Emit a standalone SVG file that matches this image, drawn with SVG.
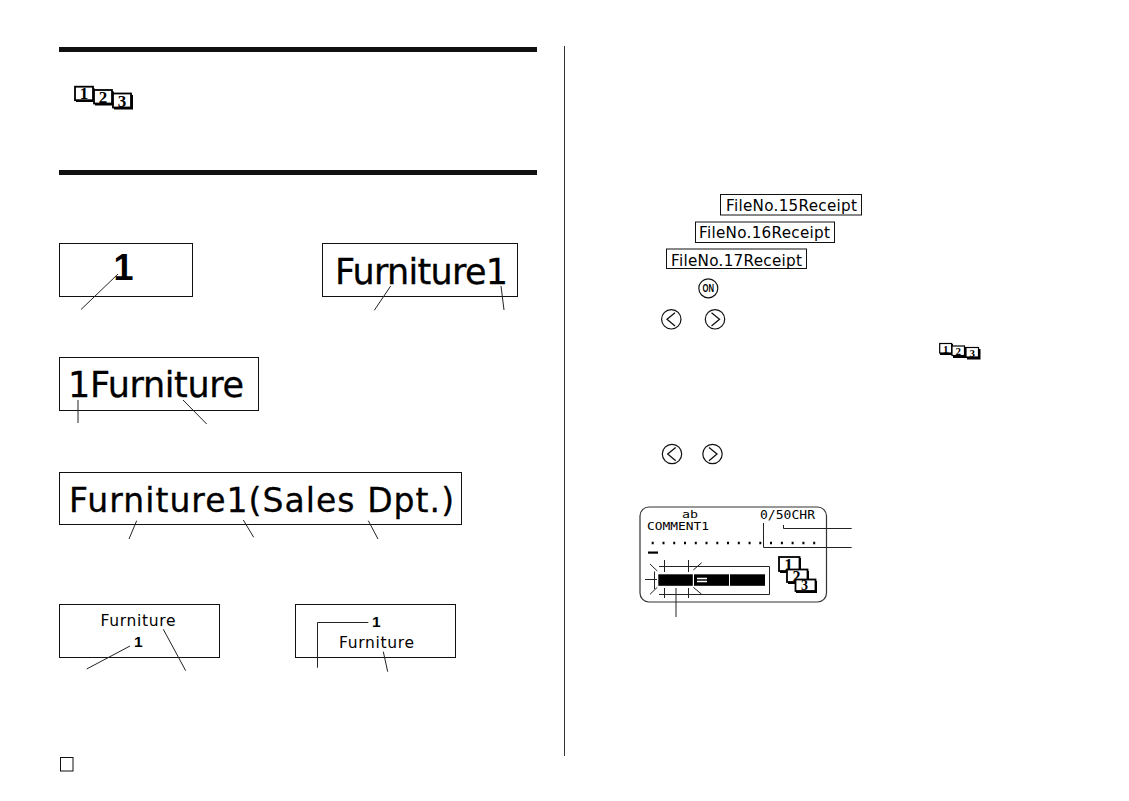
<svg xmlns="http://www.w3.org/2000/svg" width="1129" height="801" viewBox="0 0 1129 801">
<style>
.b{fill:#fff;stroke:#111;stroke-width:1}
.l{fill:none;stroke:#222;stroke-width:1}
.t{font-family:"DejaVu Sans","Liberation Sans",sans-serif;fill:#000}
.o{font-family:"Liberation Sans",Arial,sans-serif;fill:#000;font-weight:bold}
.h{stroke:#000;stroke-width:.3}
.m{font-family:"DejaVu Sans Mono","Liberation Mono",monospace;fill:#000;font-size:11.500px}
.i{fill:#fff;stroke:#000;stroke-width:1.800}
.s{fill:#000}
.n{font-family:"Liberation Serif",serif;font-weight:bold;fill:#000;text-anchor:middle}
.c{fill:#fff;stroke:#111;stroke-width:1.200}
.a{fill:none;stroke:#111;stroke-width:1.300}
</style>
<rect width="1129" height="801" fill="#fff"/>
<g id="rules">
<rect x="59" y="47" width="478" height="5" fill="#111"/>
<rect x="59" y="170" width="478" height="5" fill="#111"/>
<rect x="564" y="46" width="1" height="710" fill="#333"/>
</g>
<g id="icon-top">
<rect class="s" x="76" y="88" width="18.500" height="14"/><rect class="i" x="75" y="86.700" width="18" height="13.500"/><text class="n" x="84" y="99" font-size="17">1</text>
<rect class="s" x="95" y="91.500" width="19" height="14"/><rect class="i" x="94" y="90" width="18" height="13.500"/><text class="n" x="103" y="103" font-size="17">2</text>
<rect class="s" x="114" y="95" width="19" height="14.500"/><rect class="i" x="113" y="93.500" width="18" height="14"/><text class="n" x="122" y="106.500" font-size="17">3</text>
</g>
<g id="box1"><rect class="b" x="59.500" y="243.500" width="133" height="53"/><text class="o" x="113.500" y="280" font-size="36">1</text></g>
<g id="box2"><rect class="b" x="322.500" y="243.500" width="195" height="53"/><text class="t h" x="335" y="284" font-size="35" textLength="173">Furniture1</text></g>
<g id="box3"><rect class="b" x="59.500" y="357.500" width="199" height="53"/><text class="t h" x="68" y="397" font-size="35" textLength="176">1Furniture</text></g>
<g id="box4"><rect class="b" x="59.500" y="472.500" width="402" height="52"/><text class="t h" x="69" y="512" font-size="33" textLength="385">Furniture1(Sales Dpt.)</text></g>
<g id="box5"><rect class="b" x="59.500" y="604.500" width="160" height="53"/><text class="t" x="100.500" y="626" font-size="15.500" textLength="75">Furniture</text><text class="o" x="134" y="647" font-size="15.500">1</text></g>
<g id="box6"><rect class="b" x="295.500" y="604.500" width="160" height="53"/><text class="o" x="372" y="627" font-size="15.500">1</text><text class="t" x="339" y="648" font-size="15.500" textLength="75">Furniture</text></g>
<g id="page-box"><rect class="b" x="60.500" y="757.500" width="12.500" height="13.500"/></g>
<g id="file15"><rect class="b" x="720.500" y="194.500" width="141" height="20.500"/><text class="t" x="726" y="211" font-size="15.200" textLength="131">FileNo.15Receipt</text></g>
<g id="file16"><rect class="b" x="695.500" y="222" width="139" height="20.500"/><text class="t" x="699" y="238" font-size="15.200" textLength="131">FileNo.16Receipt</text></g>
<g id="file17"><rect class="b" x="666.500" y="249" width="140" height="19.500"/><text class="t" x="671" y="265.500" font-size="15.200" textLength="131">FileNo.17Receipt</text></g>
<g id="key-on"><circle class="c" cx="708.300" cy="288.300" r="9.500"/><text class="o" x="702.500" y="292" font-size="10" textLength="11.500" lengthAdjust="spacingAndGlyphs">ON</text></g>
<g id="key-left-1"><circle class="c" cx="671.300" cy="319.300" r="9.700"/><path class="a" d="M675 312.700L667 319.300L675 326"/></g>
<g id="key-right-1"><circle class="c" cx="715" cy="319.300" r="9.700"/><path class="a" d="M711.500 312.700L719.500 319.300L711.500 326"/></g>
<g id="key-left-2"><circle class="c" cx="672" cy="454" r="9.700"/><path class="a" d="M675.700 447.400L667.700 454L675.700 460.700"/></g>
<g id="key-right-2"><circle class="c" cx="712.500" cy="454" r="9.700"/><path class="a" d="M709 447.400L717 454L709 460.700"/></g>
<g id="icon-small">
<rect class="s" x="940" y="344" width="13" height="11"/><rect class="i" x="939.700" y="343.500" width="12" height="9.500" style="stroke-width:1.200"/><text class="n" x="945.700" y="352.500" font-size="11">1</text>
<rect class="s" x="953" y="347" width="14" height="11"/><rect class="i" x="952" y="346" width="12.500" height="9.500" style="stroke-width:1.200"/><text class="n" x="958.200" y="354.800" font-size="11">2</text>
<rect class="s" x="967" y="349" width="13.500" height="10.500"/><rect class="i" x="966" y="347.500" width="12.500" height="9.500" style="stroke-width:1.200"/><text class="n" x="972.200" y="356.500" font-size="11">3</text>
</g>
<g id="lcd">
<rect x="640" y="507" width="186.500" height="95" rx="9" fill="#fff" stroke="#333" stroke-width="1.200"/>
<text class="m" x="682" y="517.500" font-size="10" style="font-size:10px" textLength="16" lengthAdjust="spacingAndGlyphs">ab</text>
<text class="m" x="647" y="530" style="font-size:10.500px" textLength="62" lengthAdjust="spacingAndGlyphs">COMMENT1</text>
<text class="m" x="760" y="519" textLength="55" lengthAdjust="spacingAndGlyphs">0/50CHR</text>
<path d="M651.700 543h2M662.500 543h2M673.200 543h2M684 543h2M694.800 543h2M705.500 543h2M716.300 543h2M727 543h2M737.800 543h2M748.600 543h2M759.300 543h2M770 543h2M780.900 543h2M791.600 543h2M802.400 543h2M813.200 543h2" stroke="#000" stroke-width="2.500"/>
<rect x="648" y="551.500" width="10" height="2.200" fill="#000"/>
<path fill="none" stroke="#222" d="M659 566.500H769.500V594.500H659M654.500 571.500V589"/>
<path class="l" d="M645 579.500h12M664.500 560v12M688.500 560v12M664.500 588v10M688.500 588v10M650 564l7.300 7M701.700 562.700l-8.400 7.300M650 594.300l7.300-7M701.700 594.300l-8.400-7"/>
<rect x="658.300" y="574.300" width="34.500" height="11.500" fill="#000"/>
<rect x="694" y="574.300" width="35" height="11.500" fill="#000"/>
<rect x="730" y="574.300" width="35" height="11.500" fill="#000"/>
<path d="M697 578.500h10M697 581.500h10" stroke="#fff" stroke-width="1.600"/>
</g>
<g id="icon-lcd">
<rect class="s" x="780" y="558" width="21" height="15"/><rect class="i" x="779" y="557" width="20.500" height="14"/><text class="n" x="788.500" y="570" font-size="17">1</text>
<rect class="s" x="788" y="571" width="21" height="13"/><rect class="i" x="787" y="569.500" width="20.500" height="12.500"/><text class="n" x="796.500" y="581.500" font-size="16">2</text>
<rect class="s" x="796" y="581" width="21" height="12"/><rect class="i" x="795.500" y="579.500" width="20" height="11.500"/><text class="n" x="804.500" y="590" font-size="14">3</text>
</g>
<g id="connectors" class="l">
<path class="l" d="M118 274L81 309.500"/>
<path class="l" d="M390.700 286L374.300 310.300"/>
<path class="l" d="M501 286L504 310"/>
<path class="l" d="M78 400V423"/>
<path class="l" d="M183 400L206.700 424"/>
<path class="l" d="M136.700 520.700L129 539"/>
<path class="l" d="M243.300 520L253.700 537.300"/>
<path class="l" d="M368.300 520.700L378 539"/>
<path class="l" d="M130 646L86.700 669"/>
<path class="l" d="M163.300 629.300L185.700 670.700"/>
<path class="l" d="M368.300 622.500H317.500V667.700"/>
<path class="l" d="M383.300 651.700L387.700 671.700"/>
<path class="l" d="M783.500 525V528.500H851.700"/>
<path class="l" d="M763.500 523V547.500H851.700"/>
<path class="l" d="M676 588V617"/>
</g>
</svg>
